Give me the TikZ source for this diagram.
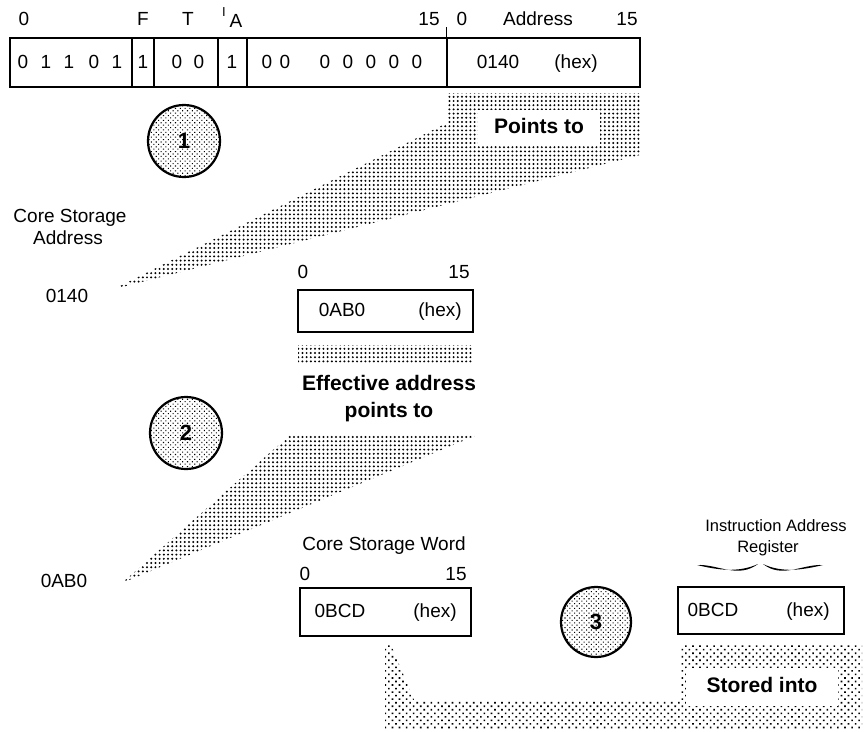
\documentclass[tikz,border=0pt]{standalone}
\usepackage{fontspec}
\setmainfont{Liberation Sans}
\usetikzlibrary{patterns.meta}
\begin{document}
\begin{tikzpicture}[x=1pt,y=-1pt,
  lbl/.style={font=\fontsize{19}{22}\selectfont, inner sep=0pt, text height=14pt, text depth=4pt},
  small/.style={font=\fontsize{16.5}{19}\selectfont, inner sep=0pt, text height=12pt, text depth=3.5pt},
  bold/.style={font=\fontsize{21}{25}\selectfont\bfseries, inner sep=0pt, text height=15pt, text depth=4.5pt},
  field/.style={draw, line width=1.3pt, inner sep=0pt, minimum height=49pt},
  regbox/.style={draw, line width=1.3pt, inner sep=0pt},
  dotsA/.style={pattern={Dots[distance=4.2pt,radius=1.1pt]}},
  dotsB/.style={pattern={Dots[distance=5pt,angle=45,radius=1.15pt]}},
  stage/.style={circle, draw, line width=2.2pt, minimum size=72pt, inner sep=0pt,
    pattern={Dots[distance=3.4pt,angle=45,radius=0.75pt]},
    font=\fontsize{22}{24}\selectfont\bfseries},
]
\useasboundingbox (0,0) rectangle (864,731);

% ---------- instruction word ----------
\node[field, minimum width=122pt] (f1) at (71,62.5) {};
\node[field, minimum width=22pt]  (f2) at (143,62.5) {};
\node[field, minimum width=64pt]  (f3) at (186,62.5) {};
\node[field, minimum width=29pt]  (f4) at (232.5,62.5) {};
\node[field, minimum width=200pt] (f5) at (347,62.5) {};
\node[field, minimum width=193pt] (f6) at (543.5,62.5) {};
\coordinate (tick) at ([yshift=10pt]f6.north west);
\draw[line width=1.3pt] (f6.north west) -- (tick);

% field labels
\node[lbl] (l0) at (24,20) {0};
\node[lbl] (lF) at (143,20) {F};
\node[lbl] (lT) at (188,20) {T};
\node[font=\fontsize{13}{15}\selectfont, inner sep=0pt] (lI) at (224,12) {I};
\node[lbl] (lA) at (236,22) {A};
\node[lbl] (l15a) at (429,20) {15};
\node[lbl] (l0b) at (462,20) {0};
\node[lbl] (lAd) at (538,20) {Address};
\node[lbl] (l15b) at (627,20) {15};

% bits
\node[lbl] (b1) at (23,63) {0};
\node[lbl] (b2) at (46,63) {1};
\node[lbl] (b3) at (69,63) {1};
\node[lbl] (b4) at (94,63) {0};
\node[lbl] (b5) at (117,63) {1};
\node[lbl] (b6) at (143,63) {1};
\node[lbl] (b7) at (177,63) {0};
\node[lbl] (b8) at (199,63) {0};
\node[lbl] (b9) at (232,63) {1};
\node[lbl] (b10) at (267,63) {0};
\node[lbl] (b11) at (285,63) {0};
\node[lbl] (b12) at (325,63) {0};
\node[lbl] (b13) at (348,63) {0};
\node[lbl] (b14) at (371,63) {0};
\node[lbl] (b15) at (394,63) {0};
\node[lbl] (b16) at (417,63) {0};
\node[lbl] (addr) at (498,63) {0140};
\node[lbl] (hex1) at (576,63) {(hex)};

% ---------- step 1 ----------
\path[dotsA] (447,93) -- (640,93) -- (640,155) -- (114,289) -- (447,123) -- cycle;
\node[bold, fill=white, minimum width=122pt, minimum height=36pt] (pt1) at (539,128) {Points to};
\node[stage] (c1) at (184,141) {1};

\node[lbl] (cs1) at (70,217) {Core Storage};
\node[lbl] (cs2) at (68,239) {Address};
\node[lbl] (a140) at (67,297) {0140};

% ---------- step 2 ----------
\node[lbl] (z2) at (303,273) {0};
\node[lbl] (f2b) at (459,273) {15};
\node[regbox, minimum width=175pt, minimum height=42pt] (w1) at (385.5,311) {};
\node[lbl] (v1) at (342,311) {0AB0};
\node[lbl] (hex2) at (440,311) {(hex)};
\path[dotsA] (298,345) rectangle (473,362);
\node[bold] (ea1) at (389,385) {Effective address};
\node[bold] (ea2) at (389,412) {points to};
\path[dotsA] (290,435) -- (477,435) -- (122,583) -- cycle;
\node[stage] (c2) at (186,433) {2};
\node[lbl] (aAB0) at (64,582) {0AB0};

% ---------- step 3 ----------
\node[lbl] (csw) at (384,545) {Core Storage Word};
\node[lbl] (z3) at (305,575) {0};
\node[lbl] (f3b) at (456,575) {15};
\node[regbox, minimum width=171pt, minimum height=48pt] (w2) at (385.5,612) {};
\node[lbl] (v2) at (340,612) {0BCD};
\node[lbl] (hex3) at (435,612) {(hex)};

\node[stage, minimum size=70pt] (c3) at (596,622) {3};

\node[small] (iar1) at (776,527) {Instruction Address};
\node[small] (iar2) at (768,548) {Register};
\node[regbox, minimum width=166pt, minimum height=47pt] (w3) at (761,610.5) {};
\node[lbl] (v3) at (713,611) {0BCD};
\node[lbl] (hex4) at (808,611) {(hex)};
% brace
\fill (697,565) .. controls (718,564) and (738,579) .. (758,564)
      .. controls (738,573) and (718,570) .. (697,565) -- cycle;
\fill (823,565) .. controls (802,564) and (782,579) .. (763,564)
      .. controls (782,573) and (802,570) .. (823,565) -- cycle;

\path[dotsB] (385,645) -- (391,645) -- (414,700) -- (680,700) -- (680,645) -- (862,645)
  -- (862,729) -- (385,729) -- cycle;
\node[bold, fill=white, minimum width=152pt, minimum height=38pt] (st) at (762,687) {Stored into};
\end{tikzpicture}
\end{document}
